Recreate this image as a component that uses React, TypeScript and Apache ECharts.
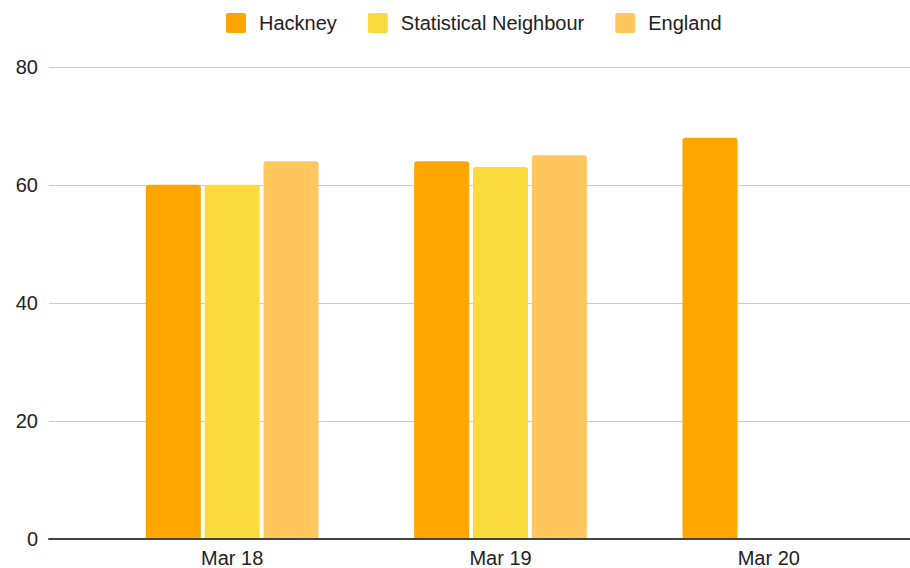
import React, { useEffect, useRef } from "react";
import * as echarts from "echarts";

const categories = ["Mar 18", "Mar 19", "Mar 20"];
const hackney = [60, 64, 68];
const statisticalNeighbour: (number | null)[] = [60, 63, null];
const england: (number | null)[] = [64, 65, null];
const yTicks = { min: 0, max: 80, interval: 20 };

export default function App() {
  const ref = useRef<HTMLDivElement>(null);
  useEffect(() => {
    if (!ref.current) return;
    const chart = echarts.init(ref.current, null, { renderer: "svg" });
    const font = "Arial, 'Liberation Sans', sans-serif";
    const icon =
      "path://M2,0H18A2,2 0 0 1 20,2V18A2,2 0 0 1 18,20H2A2,2 0 0 1 0,18V2A2,2 0 0 1 2,0Z";
    chart.setOption({
      animation: false,
      textStyle: { fontFamily: font },
      legend: {
        top: 8,
        left: 221,
        itemWidth: 20,
        itemHeight: 20,
        itemGap: 31,
        icon,
        textStyle: { fontSize: 20, color: "#222", fontFamily: font, padding: [0, 0, 0, 8] },
        data: ["Hackney", "Statistical Neighbour", "England"],
      },
      grid: [
        { left: 98, right: 7, top: 67, bottom: 29 },
        { left: 49, right: 0, top: 67, bottom: 29 },
      ],
      xAxis: [
        {
          type: "category",
          gridIndex: 0,
          data: categories,
          axisLine: { show: false },
          axisTick: { show: false },
          axisLabel: { fontSize: 20, color: "#222", margin: 10, fontFamily: font },
        },
        {
          type: "category",
          gridIndex: 1,
          data: categories,
          axisLine: { show: true, lineStyle: { color: "#444", width: 2 } },
          axisTick: { show: false },
          axisLabel: { show: false },
          z: 10,
        },
      ],
      yAxis: [
        {
          type: "value",
          gridIndex: 0,
          ...yTicks,
          show: false,
          splitLine: { show: false },
        },
        {
          type: "value",
          gridIndex: 1,
          ...yTicks,
          axisLine: { show: false },
          axisTick: { show: false },
          axisLabel: { fontSize: 20, color: "#222", margin: 11, fontFamily: font },
          splitLine: { lineStyle: { color: "#cccccc", width: 1 } },
        },
      ],
      series: [
        {
          name: "Hackney",
          type: "bar",
          xAxisIndex: 0,
          yAxisIndex: 0,
          data: hackney,
          barWidth: 55,
          barGap: "7%",
          itemStyle: { color: "#ffa500", borderRadius: [3, 3, 0, 0] },
        },
        {
          name: "Statistical Neighbour",
          type: "bar",
          xAxisIndex: 0,
          yAxisIndex: 0,
          data: statisticalNeighbour,
          barWidth: 55,
          barGap: "7%",
          itemStyle: { color: "#fbdb3c", borderRadius: [3, 3, 0, 0] },
        },
        {
          name: "England",
          type: "bar",
          xAxisIndex: 0,
          yAxisIndex: 0,
          data: england,
          barWidth: 55,
          barGap: "7%",
          itemStyle: { color: "#ffc75e", borderRadius: [3, 3, 0, 0] },
        },
      ],
    });
    return () => chart.dispose();
  }, []);
  return <div ref={ref} style={{ width: 910, height: 568, position: "absolute", left: 0, top: 0 }} />;
}
